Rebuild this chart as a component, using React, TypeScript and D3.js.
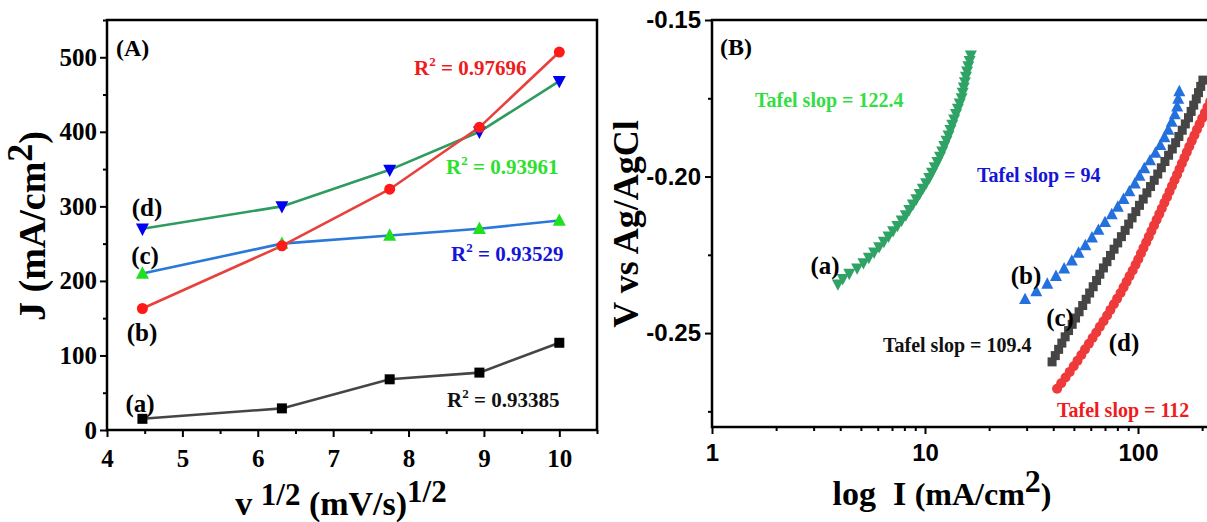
import React, { useRef, useEffect } from 'react';
import * as d3 from 'd3';

// Panel A: current density vs square root of scan rate
const sqrtRate = [4.47, 6.32, 7.75, 8.94, 10];
const jA = [15, 29, 68, 77, 117];
const jB = [163, 247, 323, 406, 507];
const jC = [210, 250, 261, 270, 281];
const jD = [270, 300, 349, 400, 468];

// Panel B: Tafel plots (I in mA/cm2, V vs Ag/AgCl)
const tafelAI = [3.90, 4.11, 4.41, 4.80, 5.14, 5.45, 5.77, 6.09, 6.41, 6.74, 7.08, 7.42, 7.77, 8.13, 8.44, 8.77, 9.11, 9.44, 9.77, 10.12, 10.47, 10.79, 11.11, 11.43, 11.76, 12.04, 12.32, 12.62, 12.90, 13.16, 13.43, 13.70, 13.98, 14.27, 14.55, 14.86, 15.03, 15.21, 15.39, 15.57, 15.76, 15.98, 16.20, 16.42];
const tafelAV = [-0.2344, -0.2327, -0.2310, -0.2293, -0.2276, -0.2259, -0.2242, -0.2225, -0.2208, -0.2191, -0.2174, -0.2157, -0.2140, -0.2123, -0.2106, -0.2089, -0.2072, -0.2055, -0.2038, -0.2021, -0.2004, -0.1987, -0.1970, -0.1953, -0.1936, -0.1919, -0.1902, -0.1885, -0.1868, -0.1851, -0.1834, -0.1817, -0.1800, -0.1783, -0.1766, -0.1749, -0.1732, -0.1715, -0.1698, -0.1681, -0.1664, -0.1647, -0.1630, -0.1613];

const tafelBI = [29.5, 33.3, 37.5, 41.2, 45.0, 48.9, 52.6, 56.6, 60.8, 65.2, 70.0, 75.3, 80.4, 85.5, 91.1, 96.6, 101.6, 107.0, 113.9, 120.7, 127.3, 133.1, 138.8, 144.0, 148.9, 152.7, 154.5, 156.3];
const tafelBV = [-0.2392, -0.2367, -0.2343, -0.2318, -0.2294, -0.2269, -0.2244, -0.2220, -0.2195, -0.2171, -0.2146, -0.2121, -0.2097, -0.2072, -0.2048, -0.2023, -0.1998, -0.1974, -0.1949, -0.1925, -0.1900, -0.1875, -0.1851, -0.1826, -0.1802, -0.1777, -0.1752, -0.1728];

const tafelCI = [39.5, 40.9, 42.4, 43.9, 45.5, 47.2, 49.1, 50.9, 52.9, 55.0, 57.1, 59.3, 61.6, 63.9, 66.2, 68.8, 71.5, 74.3, 77.2, 80.3, 83.6, 87.0, 90.4, 93.8, 97.7, 101.6, 105.8, 110.1, 114.5, 119.2, 123.8, 128.7, 133.8, 139.2, 144.9, 150.2, 155.6, 161.3, 166.8, 172.6, 177.6, 182.6, 187.8, 192.3, 197.0, 201.7];
const tafelCV = [-0.2592, -0.2572, -0.2552, -0.2532, -0.2512, -0.2492, -0.2472, -0.2452, -0.2432, -0.2412, -0.2392, -0.2372, -0.2352, -0.2332, -0.2312, -0.2292, -0.2272, -0.2252, -0.2232, -0.2212, -0.2192, -0.2172, -0.2152, -0.2132, -0.2112, -0.2092, -0.2072, -0.2052, -0.2032, -0.2012, -0.1992, -0.1972, -0.1952, -0.1932, -0.1912, -0.1892, -0.1872, -0.1852, -0.1832, -0.1812, -0.1792, -0.1772, -0.1752, -0.1732, -0.1712, -0.1692];

const tafelDI = [41.7, 43.6, 45.7, 47.8, 49.9, 52.0, 54.2, 56.4, 58.8, 61.2, 63.7, 66.2, 68.9, 71.6, 74.2, 77.0, 79.8, 82.8, 85.6, 88.4, 91.3, 94.4, 97.4, 100.3, 103.2, 106.1, 109.3, 112.4, 115.6, 118.9, 122.3, 125.8, 129.3, 133.0, 136.8, 140.6, 144.4, 148.4, 152.5, 156.6, 160.7, 165.1, 169.5, 174.1, 178.9, 184.0, 189.2, 194.6, 200.2, 206.1, 212.0, 218.3];
const tafelDV = [-0.2678, -0.2660, -0.2642, -0.2624, -0.2606, -0.2588, -0.2570, -0.2552, -0.2534, -0.2516, -0.2498, -0.2480, -0.2462, -0.2444, -0.2426, -0.2408, -0.2390, -0.2372, -0.2354, -0.2336, -0.2318, -0.2300, -0.2282, -0.2264, -0.2246, -0.2228, -0.2210, -0.2192, -0.2174, -0.2156, -0.2138, -0.2120, -0.2102, -0.2084, -0.2066, -0.2048, -0.2030, -0.2012, -0.1994, -0.1976, -0.1958, -0.1940, -0.1922, -0.1904, -0.1886, -0.1868, -0.1850, -0.1832, -0.1814, -0.1796, -0.1778, -0.1760];

const xTicksA = [4, 5, 6, 7, 8, 9, 10];
const yTicksA = [0, 100, 200, 300, 400, 500];
const xTicksB = [1, 10, 100];
const yTicksB = [-0.25, -0.2, -0.15];

const serif = '"Liberation Serif", "Times New Roman", serif';
const sans = '"Liberation Sans", Arial, sans-serif';

const App = () => {
  const svgRef = useRef<SVGSVGElement>(null);

  useEffect(() => {
    const svg = d3.select(svgRef.current);
    svg.selectAll('*').remove();

    const styleAxis = (sel: any, font: string, size: number) => {
      sel.select('.domain').remove();
      sel.selectAll('line').attr('stroke', '#000').attr('stroke-width', 2);
      sel.selectAll('text')
        .attr('font-family', font)
        .attr('font-size', size)
        .attr('font-weight', 'bold')
        .attr('fill', '#000');
    };

    const marker = (g: any, shape: string, cx: number, cy: number, s: number, fill: string) => {
      if (shape === 'square') {
        g.append('rect').attr('x', cx - s / 2).attr('y', cy - s / 2)
          .attr('width', s).attr('height', s).attr('fill', fill);
      } else if (shape === 'circle') {
        g.append('circle').attr('cx', cx).attr('cy', cy).attr('r', s / 2).attr('fill', fill);
      } else {
        const k = shape === 'up' ? 1 : -1;
        const pts = [[cx, cy - k * s * 0.55], [cx + s / 2, cy + k * s * 0.4], [cx - s / 2, cy + k * s * 0.4]];
        g.append('polygon').attr('points', pts.map(p => p.join(',')).join(' ')).attr('fill', fill);
      }
    };

    const text = (g: any, x: number, y: number, str: string, color: string, size: number, anchor = 'start', font = serif) =>
      g.append('text')
        .attr('x', x).attr('y', y)
        .attr('fill', color)
        .attr('font-family', font)
        .attr('font-size', size)
        .attr('font-weight', 'bold')
        .attr('text-anchor', anchor)
        .attr('dominant-baseline', 'central')
        .text(str);

    const rSquared = (g: any, x: number, y: number, value: string, color: string) => {
      const t = g.append('text')
        .attr('x', x).attr('y', y)
        .attr('fill', color)
        .attr('font-family', serif)
        .attr('font-weight', 'bold')
        .attr('font-size', 21)
        .attr('dominant-baseline', 'central');
      t.append('tspan').text('R');
      t.append('tspan').attr('font-size', 13).attr('dy', -7).text('2');
      t.append('tspan').attr('dy', 7).text(` = ${value}`);
    };

    // ---------------- Panel A ----------------
    const xA = d3.scaleLinear().domain([4, 10.5]).range([107, 597]);
    const yA = d3.scaleLinear().domain([0, 550]).range([430, 20]);
    const gA = svg.append('g');

    gA.append('g').attr('transform', 'translate(0,430)')
      .call(d3.axisBottom(xA).tickValues(xTicksA).tickSize(7).tickPadding(12).tickFormat(d3.format('d')))
      .call((s: any) => styleAxis(s, serif, 25));
    gA.append('g').attr('transform', 'translate(0,430)')
      .call(d3.axisBottom(xA).tickValues(d3.range(4.5, 10.6, 1)).tickSize(4).tickFormat(() => ''))
      .call((s: any) => styleAxis(s, serif, 25));
    gA.append('g').attr('transform', 'translate(107,0)')
      .call(d3.axisLeft(yA).tickValues(yTicksA).tickSize(7).tickPadding(3).tickFormat(d3.format('d')))
      .call((s: any) => styleAxis(s, serif, 25));
    gA.append('g').attr('transform', 'translate(107,0)')
      .call(d3.axisLeft(yA).tickValues(d3.range(50, 551, 100)).tickSize(4).tickFormat(() => ''))
      .call((s: any) => styleAxis(s, serif, 25));

    gA.append('rect')
      .attr('x', xA(4)).attr('y', yA(550))
      .attr('width', xA(10.5) - xA(4)).attr('height', yA(0) - yA(550))
      .attr('fill', 'none').attr('stroke', '#000').attr('stroke-width', 2.5);

    const seriesA = [
      { ys: jA, line: '#454545', mark: '#000000', shape: 'square', size: 10 },
      { ys: jD, line: '#2e9b5f', mark: '#0000f0', shape: 'down', size: 13 },
      { ys: jC, line: '#2a78d8', mark: '#1fe01f', shape: 'up', size: 13 },
      { ys: jB, line: '#e8403c', mark: '#ff1a1a', shape: 'circle', size: 11 },
    ];
    const lineA = d3.line<number>().x((_, i) => xA(sqrtRate[i])).y(d => yA(d));
    seriesA.forEach(s => {
      gA.append('path').datum(s.ys).attr('d', lineA)
        .attr('fill', 'none').attr('stroke', s.line).attr('stroke-width', 2.6);
    });
    seriesA.forEach(s => {
      s.ys.forEach((v, i) => marker(gA, s.shape, xA(sqrtRate[i]), yA(v), s.size, s.mark));
    });

    text(gA, 116, 48, '(A)', '#000', 24);
    text(gA, 147, 207, '(d)', '#000', 25, 'middle');
    text(gA, 145, 255, '(c)', '#000', 25, 'middle');
    text(gA, 142, 332, '(b)', '#000', 25, 'middle');
    text(gA, 140, 403, '(a)', '#000', 25, 'middle');
    rSquared(gA, 414, 68, '0.97696', '#ee1c1c');
    rSquared(gA, 446, 167, '0.93961', '#2ee02e');
    rSquared(gA, 451, 254, '0.93529', '#1515d8');
    rSquared(gA, 447, 400, '0.93385', '#111');

    // axis titles A
    const jt = gA.append('text')
      .attr('transform', 'translate(45,226) rotate(-90)')
      .attr('text-anchor', 'middle')
      .attr('font-family', serif).attr('font-weight', 'bold').attr('font-size', 38);
    jt.append('tspan').text('J (mA/cm');
    jt.append('tspan').attr('dy', -13).attr('font-size', 36).text('2');
    jt.append('tspan').attr('dy', 13).text(')');

    const vt = gA.append('text')
      .attr('x', 341).attr('y', 515)
      .attr('text-anchor', 'middle')
      .attr('font-family', serif).attr('font-weight', 'bold').attr('font-size', 34)
      .style('white-space', 'pre');
    vt.append('tspan').text('v ');
    vt.append('tspan').attr('dy', -10).attr('font-size', 31).text('1/2');
    vt.append('tspan').attr('dy', 10).text(' (mV/s)');
    vt.append('tspan').attr('dy', -13).attr('font-size', 31).text('1/2');

    // ---------------- Panel B ----------------
    const xB = d3.scaleLog().domain([1, 240]).range([712, 712 + 213 * Math.log10(240)]);
    const yB = d3.scaleLinear().domain([-0.28, -0.15]).range([427, 20]);
    const gB = svg.append('g');

    gB.append('g').attr('transform', 'translate(0,427)')
      .call(d3.axisBottom(xB).tickValues(xTicksB).tickSize(7).tickPadding(10).tickFormat(d3.format('d')))
      .call((s: any) => styleAxis(s, sans, 24));
    const minorLog = [2, 3, 4, 5, 6, 7, 8, 9, 20, 30, 40, 50, 60, 70, 80, 90, 200];
    gB.append('g').attr('transform', 'translate(0,427)')
      .call(d3.axisBottom(xB).tickValues(minorLog).tickSize(4).tickFormat(() => ''))
      .call((s: any) => styleAxis(s, sans, 24));
    gB.append('g').attr('transform', 'translate(712,0)')
      .call(d3.axisLeft(yB).tickValues(yTicksB).tickSize(7).tickPadding(4).tickFormat((d: any) => d.toFixed(2)))
      .call((s: any) => styleAxis(s, sans, 24));
    gB.append('g').attr('transform', 'translate(712,0)')
      .call(d3.axisLeft(yB).tickValues([-0.275, -0.225, -0.175]).tickSize(4).tickFormat(() => ''))
      .call((s: any) => styleAxis(s, sans, 24));

    gB.append('rect')
      .attr('x', xB(1)).attr('y', yB(-0.15))
      .attr('width', xB(240) - xB(1)).attr('height', yB(-0.28) - yB(-0.15))
      .attr('fill', 'none').attr('stroke', '#000').attr('stroke-width', 2.5);

    const seriesB = [
      { xs: tafelAI, ys: tafelAV, color: '#2fa365', shape: 'down', size: 12 },
      { xs: tafelBI, ys: tafelBV, color: '#2470dd', shape: 'up', size: 12 },
      { xs: tafelCI, ys: tafelCV, color: '#454545', shape: 'square', size: 9 },
      { xs: tafelDI, ys: tafelDV, color: '#ee3a3a', shape: 'circle', size: 10 },
    ];
    seriesB.forEach(s => {
      s.xs.forEach((v, i) => marker(gB, s.shape, xB(v), yB(s.ys[i]), s.size, s.color));
    });

    text(gB, 720, 47, '(B)', '#000', 24);
    text(gB, 755, 100, 'Tafel slop = 122.4', '#33dd44', 20);
    text(gB, 977, 175, 'Tafel slop = 94', '#1515d8', 20);
    text(gB, 883, 345, 'Tafel slop = 109.4', '#111', 20);
    text(gB, 1057, 410, 'Tafel slop = 112', '#ee1c1c', 20);
    text(gB, 825, 265, '(a)', '#000', 25, 'middle');
    text(gB, 1026, 275, '(b)', '#000', 25, 'middle');
    text(gB, 1060, 317, '(c)', '#000', 25, 'middle');
    text(gB, 1124, 342, '(d)', '#000', 25, 'middle');

    gB.append('text')
      .attr('transform', 'translate(638,224) rotate(-90)')
      .attr('text-anchor', 'middle')
      .attr('font-family', serif).attr('font-weight', 'bold').attr('font-size', 36)
      .text('V vs Ag/AgCl');

    const lt = gB.append('text')
      .attr('x', 942).attr('y', 505)
      .attr('text-anchor', 'middle')
      .attr('font-family', serif).attr('font-weight', 'bold').attr('font-size', 34)
      .style('white-space', 'pre');
    lt.append('tspan').text('log  I ');
    lt.append('tspan').attr('font-size', 32).text('(mA/cm');
    lt.append('tspan').attr('font-size', 32).attr('dy', -13).text('2');
    lt.append('tspan').attr('font-size', 32).attr('dy', 13).text(')');
  }, []);

  return (
    <svg
      ref={svgRef}
      width={1207}
      height={522}
      style={{ position: 'absolute', left: 0, top: 0, background: '#fff' }}
    />
  );
};

export default App;
